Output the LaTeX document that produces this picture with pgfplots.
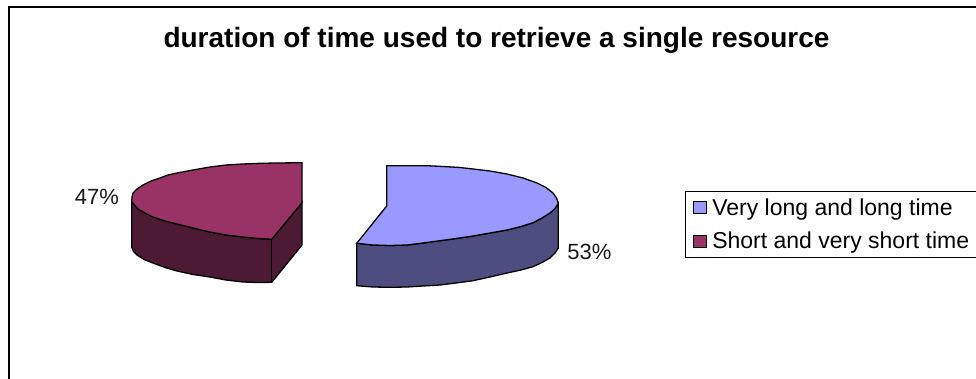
\documentclass[border=0pt]{standalone}
\usepackage{fontspec}
\setmainfont{Liberation Sans}
\usepackage{pgfplots}
\pgfplotsset{compat=1.18}
\definecolor{lilac}{HTML}{9999FF}
\definecolor{lilacdark}{HTML}{4D4D80}
\definecolor{plum}{HTML}{993366}
\definecolor{plumdark}{HTML}{4D1A33}
\begin{document}
\begin{tikzpicture}[x=1bp,y=1bp]
\useasboundingbox (0bp,0bp) rectangle (976bp,379bp);
\begin{axis}[
  scale only axis, width=976bp, height=379bp,
  xmin=0, xmax=976, ymin=0, ymax=379, y dir=reverse,
  hide axis, clip=true,
  every axis title shift=0pt,
  title={\fontsize{28bp}{32bp}\selectfont\bfseries duration of time used to retrieve a single resource},
  title style={at={(axis cs:496.5,40)},anchor=center},
  legend cell align=left,
  legend image code/.code={\path (0bp,0bp); \draw[#1] (3bp,-6bp) rectangle (15.5bp,6bp); \path (19bp,0bp);},
  legend style={at={(axis cs:684.5,191)},anchor=north west,draw=black,line width=1.1bp,
    font=\fontsize{23bp}{27bp}\selectfont,row sep=11.5bp,inner xsep=5bp,inner ysep=5bp},
]
% outer frame
\addplot[forget plot,black,line width=1.6bp] coordinates {(9,379) (9,7) (976,7)};

% short and very short time: side walls
\addplot[forget plot,fill=plumdark,draw=black,line width=1.3bp] coordinates {
 (131.7,201.7) (131.7,247) (133.5,251.5) (137,255) (144,259.5) (153,263) (165,267.5) (177,271)
 (193,274.5) (210,277) (226,280) (243,282) (258,282.5) (271.7,282.3)
 (302,245) (302,202.7) (271.7,239.3) (258,238.5) (243,237) (226,235) (210,232) (193,228)
 (177,224) (165,221) (153,217) (145,213) (138,209)} -- cycle;
\addplot[forget plot,draw=black,line width=1.3bp] coordinates {(271.7,239.3) (271.7,282.3)};
% short and very short time: top face
\addplot[forget plot,fill=plum,draw=black,line width=1.3bp] coordinates {
 (302,162.7) (302,202.7) (271.7,239.3) (258,238.5) (243,237) (226,235) (210,232) (193,228)
 (177,224) (165,221) (153,217) (145,213) (138,209) (131.7,201.7) (132,197) (133,193) (137,189)
 (143,185) (151,181) (160,178) (168,175) (177,173) (193,170) (210,167) (226,165) (243,164)
 (260,163.3) (277,163)} -- cycle;

% very long and long time: side wall
\addplot[forget plot,fill=lilacdark,draw=black,line width=1.3bp] coordinates {
 (356.7,243.3) (356.7,285.7) (373,287) (390,287.3) (407,287) (423,286) (440,285) (456,283)
 (473,280.7) (490,277) (507,273) (521,270) (533,266.7) (542,262.5) (550,258) (555,253) (558.3,248)
 (558.3,203.3) (555,208.5) (550,213) (542,218) (533,222.7) (521,226.5) (507,230) (490,233)
 (473,236) (456,238.5) (440,240.7) (423,243) (407,245) (390,245.5) (373,245)} -- cycle;
% very long and long time: top face
\addplot[forget plot,fill=lilac,draw=black,line width=1.3bp] coordinates {
 (386.7,165.7) (386.7,206) (356.7,243.3) (373,245) (390,245.5) (407,245) (423,243) (440,240.7)
 (456,238.5) (473,236) (490,233) (507,230) (521,226.5) (533,222.7) (542,218) (550,213) (555,208.5)
 (558.3,203.3) (556.5,198) (553,193) (546,187.5) (537,183) (523,178) (507,174) (490,171) (473,169)
 (460,167.5) (447,166.7) (427,165.7)} -- cycle;

% percentage labels
\node[font=\fontsize{22bp}{26bp}\selectfont,text=black!90] at (axis cs:97,197) {47\%};
\node[font=\fontsize{22bp}{26bp}\selectfont,text=black!90] at (axis cs:589.5,251.7) {53\%};

\addlegendimage{fill=lilac,draw=black,line width=1.2bp}
\addlegendentry{Very long and long time}
\addlegendimage{fill=plum,draw=black,line width=1.2bp}
\addlegendentry{Short and very short time}
\end{axis}
\end{tikzpicture}
\end{document}
